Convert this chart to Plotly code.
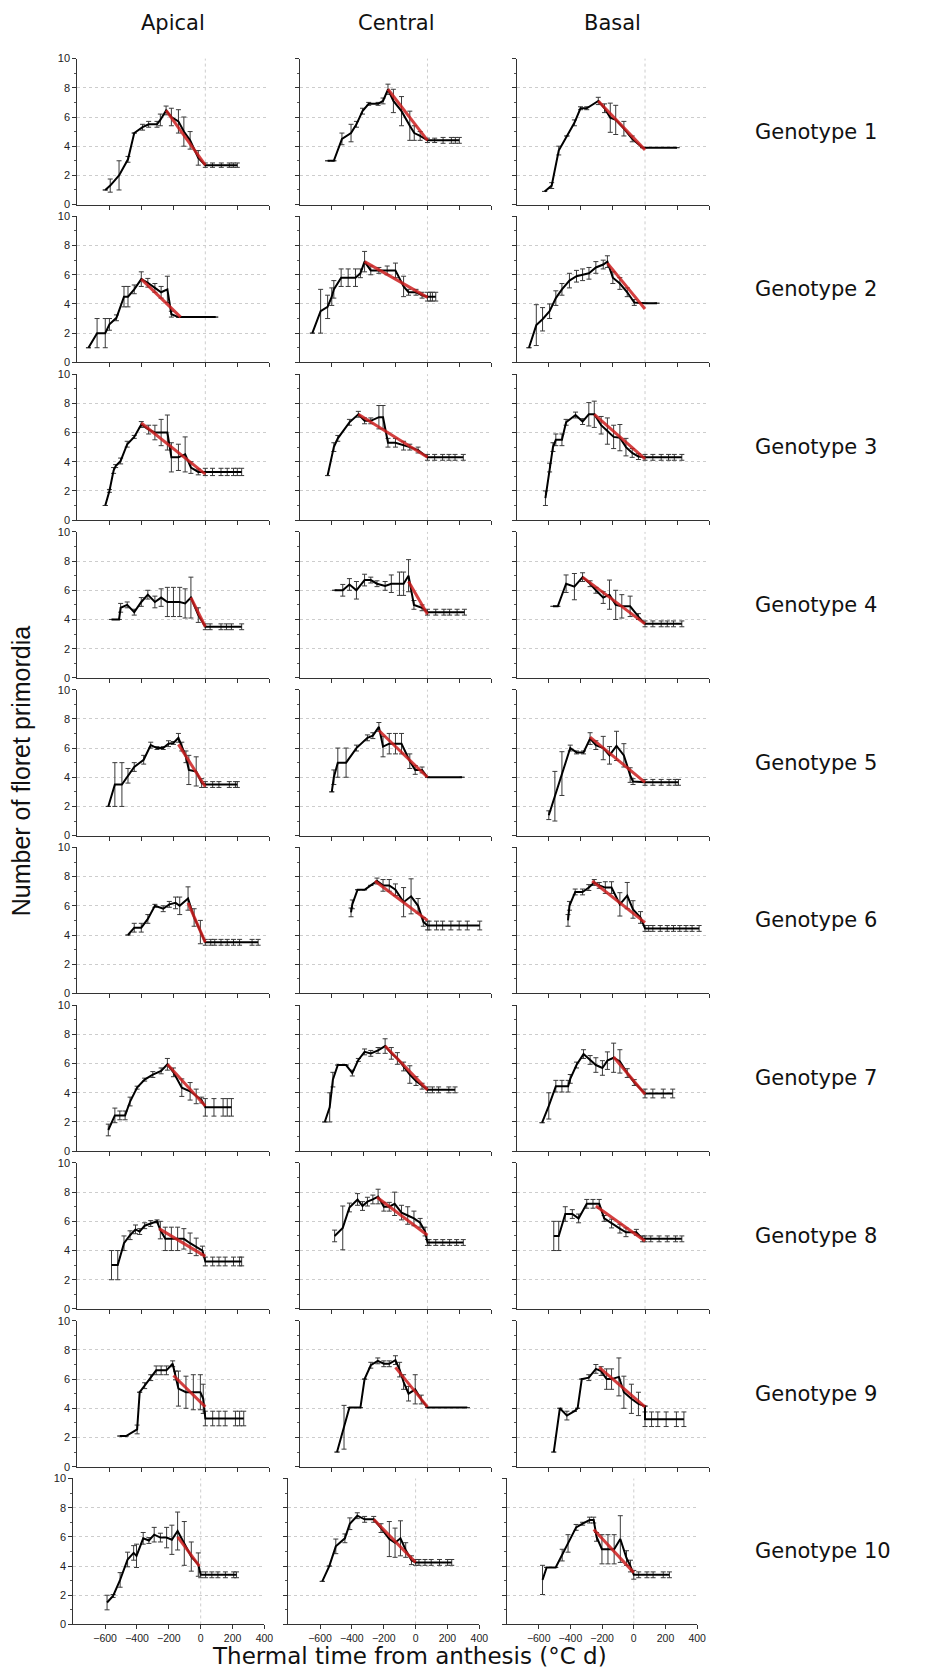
import plotly.graph_objects as go

# ---------------- data (thermal time °C d, floret primordia) ----------------
columns = ["Apical", "Central", "Basal"]
genotypes = ["Genotype %d" % i for i in range(1, 11)]
x_tickvals = [-600, -400, -200, 0, 200, 400]
y_tickvals = [0, 2, 4, 6, 8, 10]

# Genotype 1
g1_ap_x = [-625, -594, -539, -483, -444, -392, -354, -302, -281, -245, -212, -168, -134, -95, -44, 0, 45, 100, 150, 175, 200]
g1_ap_y = [1.0, 1.3, 2.0, 3.1, 4.9, 5.3, 5.5, 5.5, 5.8, 6.45, 6.0, 5.7, 5.0, 4.4, 3.2, 2.7, 2.7, 2.7, 2.7, 2.7, 2.7]
g1_ap_e = [0, 0.45, 1.0, 0.2, 0, 0.2, 0.2, 0.2, 0.4, 0.3, 0.6, 0.8, 1.0, 0.6, 0.5, 0.15, 0.15, 0.15, 0.15, 0.15, 0.15]
g1_ap_fit = ([-245, 0], [6.45, 2.7])
g1_ce_x = [-627, -588, -537, -480, -446, -408, -369, -310, -279, -248, -214, -163, -111, -83, -46, 0, 45, 98, 150, 175, 200]
g1_ce_y = [3.0, 3.0, 4.5, 4.9, 5.5, 6.4, 6.9, 6.9, 7.1, 7.9, 7.1, 6.4, 5.4, 4.9, 4.7, 4.4, 4.4, 4.4, 4.4, 4.4, 4.4]
g1_ce_e = [0, 0, 0.4, 0.6, 0.2, 0.2, 0.1, 0.1, 0.2, 0.35, 0.8, 1.0, 1.0, 0.5, 0.3, 0.15, 0.15, 0.2, 0.2, 0.2, 0.2]
g1_ce_fit = ([-248, 0], [7.9, 4.4])
g1_ba_x = [-627, -583, -539, -488, -441, -403, -364, -292, -253, -217, -183, -132, -80, -15, 0, 200]
g1_ba_y = [0.9, 1.3, 3.7, 4.7, 5.6, 6.6, 6.6, 7.1, 6.6, 5.95, 5.8, 5.2, 4.5, 3.9, 3.9, 3.9]
g1_ba_e = [0, 0.2, 0.3, 0, 0.2, 0.1, 0.1, 0.25, 0.3, 1.0, 1.0, 0.5, 0.2, 0, 0, 0]
g1_ba_fit = ([-292, 0], [7.1, 3.75])

# Genotype 2
g2_ap_x = [-730, -676, -625, -599, -555, -508, -483, -444, -400, -359, -315, -276, -237, -212, -168, 65]
g2_ap_y = [1.0, 2.0, 2.0, 2.6, 3.05, 4.5, 4.5, 5.0, 5.7, 5.45, 5.1, 4.8, 5.0, 3.3, 3.1, 3.1]
g2_ap_e = [0, 1.0, 1.0, 0.4, 0.2, 0.7, 0.7, 0.3, 0.5, 0.3, 0.3, 0.4, 0.9, 0.2, 0, 0]
g2_ap_fit = ([-400, -154], [5.7, 3.1])
g2_ce_x = [-723, -671, -627, -601, -588, -542, -498, -452, -421, -395, -356, -305, -253, -201, -150, -119, -72, -34, 0, 18, 31, 52]
g2_ce_y = [2.0, 3.5, 3.8, 4.5, 5.0, 5.8, 5.8, 5.8, 6.1, 6.9, 6.3, 6.3, 6.3, 6.3, 5.2, 4.8, 4.8, 4.6, 4.5, 4.5, 4.5, 4.5]
g2_ce_e = [0, 1.5, 0.8, 0.6, 0.6, 0.6, 0.6, 0.6, 0.3, 0.7, 0.3, 0.2, 0.3, 0.5, 0.7, 0.2, 0.2, 0.2, 0.3, 0.3, 0.3, 0.3]
g2_ce_fit = ([-395, 0], [6.9, 4.45])
g2_ba_x = [-725, -679, -640, -596, -557, -519, -472, -428, -390, -350, -307, -261, -235, -201, -157, -111, -67, 0, 75]
g2_ba_y = [1.0, 2.55, 2.95, 3.5, 4.4, 5.0, 5.6, 5.9, 6.0, 6.1, 6.5, 6.7, 6.9, 5.8, 5.4, 4.8, 4.1, 4.05, 4.05]
g2_ba_e = [0, 1.4, 0.8, 0.5, 0.5, 0.4, 0.5, 0.4, 0.4, 0.4, 0.4, 0.3, 0.4, 0.4, 0.4, 0.3, 0.2, 0, 0]
g2_ba_fit = ([-235, 0], [6.8, 3.65])

# Genotype 3
g3_ap_x = [-625, -599, -573, -560, -529, -488, -444, -400, -354, -315, -276, -237, -212, -168, -126, -90, -44, 0, 45, 98, 137, 176, 200, 227]
g3_ap_y = [1.0, 2.0, 3.4, 3.7, 4.05, 5.2, 5.7, 6.55, 6.2, 6.0, 6.0, 6.0, 4.3, 4.3, 4.5, 3.6, 3.3, 3.3, 3.3, 3.3, 3.3, 3.3, 3.3, 3.3]
g3_ap_e = [0, 0.1, 0.2, 0.1, 0.2, 0.2, 0.1, 0.2, 0.3, 0.5, 0.9, 1.2, 1.0, 0.9, 1.2, 0.4, 0.2, 0.25, 0.25, 0.25, 0.25, 0.25, 0.25, 0.25]
g3_ap_fit = ([-400, 0], [6.65, 3.15])
g3_ce_x = [-627, -588, -563, -490, -434, -395, -356, -305, -279, -248, -201, -150, -111, -59, 0, 45, 95, 135, 173, 225]
g3_ce_y = [3.05, 5.0, 5.6, 6.7, 7.25, 6.8, 6.8, 7.05, 7.05, 5.3, 5.3, 5.1, 5.0, 4.8, 4.3, 4.3, 4.3, 4.3, 4.3, 4.3]
g3_ce_e = [0, 0.3, 0.2, 0.2, 0.2, 0.2, 0.2, 0.8, 0.8, 0.3, 0.3, 0.3, 0.2, 0.2, 0.2, 0.2, 0.2, 0.2, 0.2, 0.2]
g3_ce_fit = ([-434, 0], [7.25, 4.3])
g3_ba_x = [-622, -596, -575, -557, -519, -493, -434, -390, -351, -317, -274, -235, -196, -157, -119, -80, -41, 0, 49, 101, 147, 183, 230]
g3_ba_y = [1.5, 3.6, 5.0, 5.5, 5.5, 6.7, 7.2, 6.75, 7.25, 7.25, 6.5, 6.1, 5.7, 5.65, 5.0, 4.6, 4.35, 4.3, 4.3, 4.3, 4.3, 4.3, 4.3]
g3_ba_e = [0.5, 0.3, 0.3, 0.4, 0.4, 0.2, 0.2, 0.2, 0.8, 0.9, 0.6, 0.9, 0.8, 0.9, 0.6, 0.3, 0.2, 0.2, 0.2, 0.2, 0.2, 0.2, 0.2]
g3_ba_fit = ([-317, 0], [7.25, 4.2])

# Genotype 4
g4_ap_x = [-586, -539, -529, -488, -444, -400, -359, -315, -276, -237, -199, -160, -126, -90, -44, 0, 30, 98, 132, 163, 227]
g4_ap_y = [4.0, 4.0, 4.8, 5.0, 4.5, 5.2, 5.7, 5.2, 5.5, 5.2, 5.2, 5.2, 5.1, 5.5, 4.3, 3.5, 3.5, 3.5, 3.5, 3.5, 3.5]
g4_ap_e = [0, 0, 0.3, 0.2, 0.2, 0.3, 0.3, 0.4, 0.6, 1.0, 1.0, 1.0, 1.0, 1.4, 0.5, 0.2, 0.2, 0.2, 0.2, 0.2, 0.2]
g4_ap_fit = ([-90, 0], [5.5, 3.5])
g4_ce_x = [-583, -532, -490, -446, -395, -356, -317, -266, -227, -176, -150, -119, -85, -34, 0, 52, 103, 139, 186, 232]
g4_ce_y = [6.0, 6.0, 6.4, 6.0, 6.7, 6.7, 6.45, 6.3, 6.45, 6.45, 6.45, 7.0, 5.0, 4.8, 4.5, 4.5, 4.5, 4.5, 4.5, 4.5]
g4_ce_e = [0, 0.4, 0.4, 0.6, 0.4, 0.2, 0.2, 0.3, 0.6, 0.8, 0.8, 1.1, 0.3, 0.2, 0.2, 0.2, 0.2, 0.2, 0.2, 0.2]
g4_ce_fit = ([-119, 0], [6.6, 4.35])
g4_ba_x = [-575, -545, -493, -441, -390, -343, -307, -261, -222, -183, -145, -93, -41, 0, 49, 101, 139, 178, 230]
g4_ba_y = [4.9, 4.9, 6.45, 6.25, 6.9, 6.45, 6.0, 5.5, 5.7, 5.0, 4.9, 4.9, 4.2, 3.7, 3.7, 3.7, 3.7, 3.7, 3.7]
g4_ba_e = [0, 0, 0.6, 0.9, 0.3, 0.2, 0.2, 0.4, 1.0, 1.0, 0.8, 0.7, 0.2, 0.2, 0.2, 0.2, 0.2, 0.2, 0.2]
g4_ba_fit = ([-390, 0], [6.9, 3.7])

# Genotype 5
g5_ap_x = [-606, -565, -521, -483, -444, -385, -341, -302, -263, -230, -199, -168, -147, -121, -103, -57, -23, 0, 46, 85, 150, 188, 200]
g5_ap_y = [2.0, 3.5, 3.5, 4.1, 4.7, 5.2, 6.2, 6.0, 6.0, 6.3, 6.35, 6.7, 6.1, 5.4, 4.5, 4.4, 3.6, 3.5, 3.5, 3.5, 3.5, 3.5, 3.5]
g5_ap_e = [0, 1.5, 1.5, 0.5, 0.3, 0.3, 0.2, 0.1, 0.1, 0.2, 0.1, 0.3, 0.3, 0.4, 1.0, 1.0, 0.3, 0.2, 0.2, 0.2, 0.2, 0.2, 0.2]
g5_ap_fit = ([-168, 0], [6.25, 3.35])
g5_ce_x = [-601, -588, -563, -511, -446, -377, -343, -305, -279, -240, -201, -163, -111, -77, -34, 0, 217]
g5_ce_y = [3.0, 4.0, 5.0, 5.0, 6.0, 6.7, 6.85, 7.45, 6.1, 6.3, 6.3, 6.3, 5.1, 4.5, 4.5, 4.0, 4.0]
g5_ce_e = [0, 0.5, 1.0, 1.0, 0.2, 0.2, 0.2, 0.3, 0.7, 0.7, 0.7, 0.7, 0.5, 0.3, 0.2, 0, 0]
g5_ce_fit = ([-305, 0], [7.2, 4.0])
g5_ba_x = [-601, -563, -519, -467, -428, -384, -343, -307, -261, -222, -178, -132, -93, -75, 0, 49, 101, 150, 189, 209]
g5_ba_y = [1.4, 2.7, 4.25, 6.0, 5.7, 5.7, 6.65, 6.2, 6.0, 5.5, 6.15, 5.5, 4.15, 3.7, 3.65, 3.65, 3.65, 3.65, 3.65, 3.65]
g5_ba_e = [0.3, 1.7, 1.5, 0.2, 0.1, 0.1, 0.4, 0.3, 0.8, 0.6, 1.0, 0.8, 0.5, 0.2, 0.2, 0.2, 0.2, 0.2, 0.2, 0.2]
g5_ba_fit = ([-343, 0], [6.75, 3.65])

# Genotype 6
g6_ap_x = [-483, -444, -400, -359, -315, -263, -225, -186, -160, -108, -70, -31, 0, 34, 59, 98, 137, 176, 214, 292, 330]
g6_ap_y = [4.0, 4.5, 4.5, 5.1, 6.0, 5.8, 6.1, 6.2, 6.0, 6.5, 5.2, 4.2, 3.5, 3.5, 3.5, 3.5, 3.5, 3.5, 3.5, 3.5, 3.5]
g6_ap_e = [0, 0.3, 0.3, 0.3, 0.1, 0.2, 0.2, 0.4, 0.6, 0.8, 0.6, 0.8, 0.2, 0.2, 0.2, 0.2, 0.2, 0.2, 0.2, 0.2, 0.2]
g6_ap_fit = ([-108, 0], [6.2, 3.5])
g6_ce_x = [-480, -472, -439, -395, -356, -317, -279, -240, -201, -150, -103, -59, -26, 0, 10, 57, 95, 147, 199, 250, 328]
g6_ce_y = [5.55, 6.1, 7.1, 7.1, 7.4, 7.7, 7.4, 7.4, 7.1, 6.25, 6.65, 6.0, 4.9, 4.65, 4.65, 4.65, 4.65, 4.65, 4.65, 4.65, 4.65]
g6_ce_e = [0.3, 0.3, 0, 0, 0, 0.2, 0.4, 0.4, 0.4, 1.0, 1.2, 0.5, 0.3, 0.3, 0.3, 0.3, 0.3, 0.3, 0.3, 0.3, 0.3]
g6_ce_fit = ([-330, 0], [7.7, 5.0])
g6_ba_x = [-481, -472, -436, -390, -351, -317, -286, -248, -209, -157, -111, -75, -28, 0, 23, 49, 95, 139, 178, 217, 256, 294, 338]
g6_ba_y = [5.0, 6.0, 6.95, 6.95, 7.25, 7.6, 7.4, 7.25, 7.25, 6.1, 6.7, 5.75, 5.2, 4.45, 4.45, 4.45, 4.45, 4.45, 4.45, 4.45, 4.45, 4.45, 4.45]
g6_ba_e = [0.4, 0.3, 0.2, 0.2, 0.2, 0.2, 0.2, 0.4, 0.4, 0.8, 0.9, 0.6, 0.4, 0.2, 0.2, 0.2, 0.2, 0.2, 0.2, 0.2, 0.2, 0.2, 0.2]
g6_ba_fit = ([-330, 0], [7.7, 4.85])

# Genotype 7
g7_ap_x = [-606, -565, -534, -501, -470, -426, -379, -328, -276, -237, -199, -147, -95, -57, -23, 0, 54, 111, 137, 163]
g7_ap_y = [1.45, 2.45, 2.45, 2.45, 3.4, 4.35, 4.9, 5.25, 5.5, 5.95, 5.4, 4.35, 4.1, 3.75, 3.5, 3.0, 3.0, 3.0, 3.0, 3.0]
g7_ap_e = [0.4, 0.5, 0.3, 0.3, 0.3, 0.1, 0.1, 0.2, 0.2, 0.4, 0.3, 0.6, 0.6, 0.5, 0.2, 0.6, 0.6, 0.6, 0.6, 0.6]
g7_ap_fit = ([-237, 0], [5.95, 3.1])
g7_ce_x = [-645, -614, -594, -563, -511, -472, -434, -395, -356, -310, -266, -227, -189, -150, -111, -72, -34, 0, 31, 70, 134, 173]
g7_ce_y = [2.0, 3.0, 4.9, 5.9, 5.9, 5.35, 6.25, 6.8, 6.7, 6.9, 7.2, 6.7, 6.35, 5.8, 5.25, 4.8, 4.45, 4.2, 4.2, 4.2, 4.2, 4.2]
g7_ce_e = [0, 1.0, 0.5, 0, 0, 0.2, 0.1, 0.2, 0.2, 0.2, 0.5, 0.4, 0.4, 0.3, 0.6, 0.3, 0.2, 0.2, 0.2, 0.2, 0.2, 0.2]
g7_ce_fit = ([-266, 0], [7.2, 4.2])
g7_ba_x = [-643, -601, -557, -519, -480, -467, -428, -384, -343, -307, -266, -235, -196, -157, -111, -67, 0, 49, 114, 173]
g7_ba_y = [1.95, 3.1, 4.45, 4.45, 4.45, 4.95, 5.9, 6.65, 6.25, 5.9, 5.7, 6.2, 6.4, 6.15, 5.35, 4.7, 3.95, 3.95, 3.95, 3.95]
g7_ba_e = [0, 0.9, 0.4, 0.4, 0.4, 0.3, 0.2, 0.3, 0.3, 0.5, 0.5, 0.6, 1.0, 0.8, 0.3, 0.2, 0.3, 0.3, 0.3, 0.3]
g7_ba_fit = ([-196, 0], [6.45, 3.9])

# Genotype 8
g8_ap_x = [-586, -547, -508, -470, -436, -410, -379, -341, -302, -281, -250, -212, -173, -134, -95, -57, -18, 0, 46, 85, 124, 176, 214, 227]
g8_ap_y = [3.0, 3.0, 4.5, 5.05, 5.45, 5.3, 5.7, 5.85, 6.0, 5.4, 4.8, 4.8, 4.8, 4.8, 4.5, 4.25, 4.0, 3.25, 3.25, 3.25, 3.25, 3.25, 3.25, 3.25]
g8_ap_e = [1.0, 1.0, 0.5, 0.3, 0.3, 0.2, 0.2, 0.2, 0.1, 0.6, 0.8, 0.8, 0.8, 0.7, 0.7, 0.6, 0.3, 0.3, 0.3, 0.3, 0.3, 0.3, 0.3, 0.3]
g8_ap_fit = ([-289, 0], [5.5, 3.6])
g8_ce_x = [-583, -532, -490, -439, -408, -377, -343, -310, -274, -240, -206, -163, -124, -85, -46, -15, 0, 10, 52, 96, 139, 183, 225]
g8_ce_y = [5.0, 5.55, 6.95, 7.5, 7.05, 7.35, 7.5, 7.7, 7.0, 7.0, 7.2, 6.6, 6.4, 6.2, 5.9, 5.3, 4.55, 4.55, 4.55, 4.55, 4.55, 4.55, 4.55]
g8_ce_e = [0.4, 1.5, 0.3, 0.4, 0.3, 0.3, 0.3, 0.5, 0.3, 0.3, 0.8, 0.5, 0.6, 0.5, 0.3, 0.3, 0.2, 0.2, 0.2, 0.2, 0.2, 0.2, 0.2]
g8_ce_fit = ([-317, 0], [7.65, 5.05])
g8_ba_x = [-570, -539, -498, -454, -415, -364, -325, -286, -255, -209, -157, -119, -54, -15, 0, 36, 88, 139, 191, 230]
g8_ba_y = [5.0, 5.0, 6.5, 6.5, 6.2, 7.2, 7.2, 7.2, 6.2, 5.85, 5.5, 5.25, 5.25, 4.8, 4.8, 4.8, 4.8, 4.8, 4.8, 4.8]
g8_ba_e = [1.0, 1.0, 0.5, 0.3, 0.3, 0.3, 0.3, 0.3, 0.2, 0.3, 0.3, 0.3, 0.2, 0.2, 0.2, 0.2, 0.2, 0.2, 0.2, 0.2]
g8_ba_fit = ([-307, 0], [7.05, 4.65])

# Genotype 9
g9_ap_x = [-534, -495, -426, -410, -379, -341, -307, -276, -243, -204, -186, -168, -121, -75, -31, -13, 0, 46, 85, 124, 188, 214, 240]
g9_ap_y = [2.1, 2.1, 2.55, 5.1, 5.55, 6.1, 6.6, 6.6, 6.6, 7.05, 6.25, 5.35, 5.1, 5.1, 5.1, 4.65, 3.3, 3.3, 3.3, 3.3, 3.3, 3.3, 3.3]
g9_ap_e = [0, 0, 0.3, 0, 0.2, 0.2, 0.3, 0.3, 0.3, 0.2, 0.3, 1.2, 1.1, 1.2, 1.2, 1.0, 0.5, 0.5, 0.5, 0.5, 0.5, 0.5, 0.5]
g9_ap_fit = ([-199, 0], [6.25, 4.1])
g9_ce_x = [-568, -524, -490, -421, -395, -356, -312, -274, -240, -201, -175, -150, -119, -77, -39, 0, 250]
g9_ce_y = [1.0, 2.7, 4.05, 4.05, 6.0, 6.95, 7.25, 7.05, 7.05, 7.3, 6.65, 5.8, 5.0, 5.3, 4.6, 4.05, 4.05]
g9_ce_e = [0, 1.5, 0, 0, 0, 0.2, 0.2, 0.2, 0.2, 0.3, 0.5, 0.5, 0.5, 1.0, 0.3, 0, 0]
g9_ce_fit = ([-201, 0], [6.8, 4.1])
g9_ba_x = [-570, -532, -488, -441, -421, -395, -351, -307, -274, -240, -209, -163, -132, -85, -41, 0, 0, 41, 80, 132, 196, 243]
g9_ba_y = [1.0, 4.0, 3.5, 3.8, 4.0, 6.0, 6.1, 6.7, 6.55, 6.0, 6.0, 6.15, 5.1, 4.65, 4.3, 4.15, 3.25, 3.25, 3.25, 3.25, 3.25, 3.25]
g9_ba_e = [0, 0, 0.3, 0, 0, 0, 0.2, 0.3, 0.3, 0.7, 0.7, 1.3, 1.1, 1.0, 0.8, 0, 0.5, 0.5, 0.5, 0.5, 0.5, 0.5]
g9_ba_fit = ([-286, 0], [6.8, 4.1])

# Genotype 10
g10_ap_x = [-588, -550, -506, -459, -421, -403, -361, -325, -292, -253, -214, -181, -145, -103, -59, -15, 0, 31, 70, 108, 155, 207, 225]
g10_ap_y = [1.5, 1.95, 3.05, 4.45, 4.9, 4.7, 5.9, 5.75, 6.15, 5.95, 5.95, 5.8, 6.4, 5.55, 4.65, 4.1, 3.4, 3.4, 3.4, 3.4, 3.4, 3.4, 3.4]
g10_ap_e = [0.5, 0.1, 0.5, 0.5, 0.5, 0.8, 0.4, 0.2, 0.5, 0.3, 0.7, 1.0, 1.3, 1.5, 1.0, 0.8, 0.2, 0.2, 0.2, 0.2, 0.2, 0.2, 0.2]
g10_ap_fit = ([-145, -8], [6.0, 4.0])
g10_ce_x = [-586, -542, -501, -444, -413, -366, -320, -263, -217, -165, -129, -95, -62, -26, 0, 21, 59, 98, 150, 201, 227]
g10_ce_y = [2.95, 4.0, 5.35, 5.9, 6.9, 7.45, 7.2, 7.2, 6.6, 5.85, 5.6, 5.9, 5.1, 4.4, 4.25, 4.25, 4.25, 4.25, 4.25, 4.25, 4.25]
g10_ce_e = [0, 0, 0.5, 0.3, 0.4, 0.2, 0.2, 0.2, 0.3, 1.2, 1.0, 1.2, 0.5, 0.3, 0.2, 0.2, 0.2, 0.2, 0.2, 0.2, 0.2]
g10_ce_fit = ([-263, 0], [7.2, 4.25])
g10_ba_x = [-576, -550, -493, -452, -415, -364, -323, -279, -253, -235, -201, -163, -124, -85, -46, -21, 0, 31, 83, 122, 186, 225]
g10_ba_y = [3.05, 3.9, 3.9, 4.75, 5.55, 6.65, 6.9, 7.15, 7.15, 6.0, 5.15, 5.15, 5.15, 5.85, 4.55, 4.0, 3.4, 3.4, 3.4, 3.4, 3.4, 3.4]
g10_ba_e = [1.0, 0, 0, 0.4, 0.6, 0.2, 0.1, 0.2, 0.2, 0.3, 1.0, 1.0, 1.0, 1.6, 0.5, 0.4, 0.3, 0.2, 0.2, 0.2, 0.2, 0.2]
g10_ba_fit = ([-253, 0], [6.5, 3.55])

panels = [
    [(g1_ap_x, g1_ap_y, g1_ap_e, g1_ap_fit), (g1_ce_x, g1_ce_y, g1_ce_e, g1_ce_fit), (g1_ba_x, g1_ba_y, g1_ba_e, g1_ba_fit)],
    [(g2_ap_x, g2_ap_y, g2_ap_e, g2_ap_fit), (g2_ce_x, g2_ce_y, g2_ce_e, g2_ce_fit), (g2_ba_x, g2_ba_y, g2_ba_e, g2_ba_fit)],
    [(g3_ap_x, g3_ap_y, g3_ap_e, g3_ap_fit), (g3_ce_x, g3_ce_y, g3_ce_e, g3_ce_fit), (g3_ba_x, g3_ba_y, g3_ba_e, g3_ba_fit)],
    [(g4_ap_x, g4_ap_y, g4_ap_e, g4_ap_fit), (g4_ce_x, g4_ce_y, g4_ce_e, g4_ce_fit), (g4_ba_x, g4_ba_y, g4_ba_e, g4_ba_fit)],
    [(g5_ap_x, g5_ap_y, g5_ap_e, g5_ap_fit), (g5_ce_x, g5_ce_y, g5_ce_e, g5_ce_fit), (g5_ba_x, g5_ba_y, g5_ba_e, g5_ba_fit)],
    [(g6_ap_x, g6_ap_y, g6_ap_e, g6_ap_fit), (g6_ce_x, g6_ce_y, g6_ce_e, g6_ce_fit), (g6_ba_x, g6_ba_y, g6_ba_e, g6_ba_fit)],
    [(g7_ap_x, g7_ap_y, g7_ap_e, g7_ap_fit), (g7_ce_x, g7_ce_y, g7_ce_e, g7_ce_fit), (g7_ba_x, g7_ba_y, g7_ba_e, g7_ba_fit)],
    [(g8_ap_x, g8_ap_y, g8_ap_e, g8_ap_fit), (g8_ce_x, g8_ce_y, g8_ce_e, g8_ce_fit), (g8_ba_x, g8_ba_y, g8_ba_e, g8_ba_fit)],
    [(g9_ap_x, g9_ap_y, g9_ap_e, g9_ap_fit), (g9_ce_x, g9_ce_y, g9_ce_e, g9_ce_fit), (g9_ba_x, g9_ba_y, g9_ba_e, g9_ba_fit)],
    [(g10_ap_x, g10_ap_y, g10_ap_e, g10_ap_fit), (g10_ce_x, g10_ce_y, g10_ce_e, g10_ce_fit), (g10_ba_x, g10_ba_y, g10_ba_e, g10_ba_fit)],
]

# ---------------- layout geometry (pixels) ----------------
W, H = 928, 1677
ROW_TOP0, ROW_BOT0, ROW_PITCH = 53, 200, 158.9
COLS = [(78, 272), (303, 496), (522, 716)]
COLS_LAST = [(74, 267), (291, 484), (512, 704)]

Y_TICK_FONT = dict(family="Arial, Liberation Sans, sans-serif", size=11, color="#222")
X_TICK_FONT = dict(family="Arial, Liberation Sans, sans-serif", size=10.5, color="#222")
LABEL_FONT = "DejaVu Sans, Arial, sans-serif"

fig = go.Figure()
layout = dict(
    width=W, height=H, margin=dict(l=0, r=0, t=0, b=0),
    paper_bgcolor="white", plot_bgcolor="white", showlegend=False,
)
shapes = []
annotations = []

for r, row in enumerate(panels):
    top = ROW_TOP0 + ROW_PITCH * r
    bot = ROW_BOT0 + ROW_PITCH * r
    cols = COLS_LAST if r == len(panels) - 1 else COLS
    for c, (xs, ys, es, fit) in enumerate(row):
        n = r * 3 + c + 1
        sfx = "" if n == 1 else str(n)
        xa, ya = "x" + sfx, "y" + sfx
        x0, x1 = cols[c]
        layout["xaxis" + sfx] = dict(
            domain=[x0 / W, x1 / W], anchor=ya, range=[-800, 400],
            showline=True, linecolor="#333", linewidth=1,
            ticks="outside", ticklen=4, tickcolor="#333", tickvals=x_tickvals,
            showticklabels=(r == len(panels) - 1), tickfont=X_TICK_FONT,
            showgrid=False, zeroline=False, fixedrange=True,
        )
        layout["yaxis" + sfx] = dict(
            domain=[1 - bot / H, 1 - top / H], anchor=xa, range=[0, 10],
            showline=True, linecolor="#333", linewidth=1,
            ticks="outside", ticklen=4, tickcolor="#333", tickvals=y_tickvals,
            minor=dict(dtick=1, ticks="outside", ticklen=2, tickcolor="#555", showgrid=False),
            showticklabels=(c == 0), tickfont=Y_TICK_FONT,
            showgrid=True, griddash="dot", gridcolor="#cdcdcd", gridwidth=1,
            zeroline=False, fixedrange=True,
        )
        shapes.append(dict(
            type="line", xref=xa, yref=ya + " domain", x0=0, x1=0, y0=0, y1=1,
            line=dict(color="#cdcdcd", width=1, dash="dot"), layer="below",
        ))
        fig.add_trace(go.Scatter(
            x=xs, y=ys, mode="lines", xaxis=xa, yaxis=ya,
            line=dict(color="black", width=2),
            error_y=dict(type="data", array=es, visible=True, color="#3a3a3a", thickness=1, width=2.5),
        ))
        fig.add_trace(go.Scatter(
            x=fit[0], y=fit[1], mode="lines", xaxis=xa, yaxis=ya,
            line=dict(color="rgba(205,30,30,0.85)", width=3),
        ))
    # genotype label
    annotations.append(dict(
        text=genotypes[r], xref="paper", yref="paper", x=760 / W, y=1 - (top + bot) / 2 / H,
        xanchor="left", yanchor="middle", showarrow=False,
        font=dict(family=LABEL_FONT, size=21, color="#111"),
    ))

for c, name in enumerate(columns):
    x0, x1 = COLS[c]
    annotations.append(dict(
        text=name, xref="paper", yref="paper", x=(x0 + x1) / 2 / W, y=1 - 17 / H,
        xanchor="center", yanchor="middle", showarrow=False,
        font=dict(family=LABEL_FONT, size=21, color="#111"),
    ))

annotations.append(dict(
    text="Thermal time from anthesis (°C d)", xref="paper", yref="paper",
    x=414 / W, y=1 - 1662 / H, xanchor="center", yanchor="middle", showarrow=False,
    font=dict(family=LABEL_FONT, size=23, color="#111"),
))
annotations.append(dict(
    text="Number of floret primordia", xref="paper", yref="paper",
    x=22 / W, y=1 - 771 / H, xanchor="center", yanchor="middle", showarrow=False,
    textangle=-90, font=dict(family="Arial, Liberation Sans, sans-serif", size=25, color="#111"),
))

layout["shapes"] = shapes
layout["annotations"] = annotations
fig.update_layout(**layout)
fig.write_html("out.html")
